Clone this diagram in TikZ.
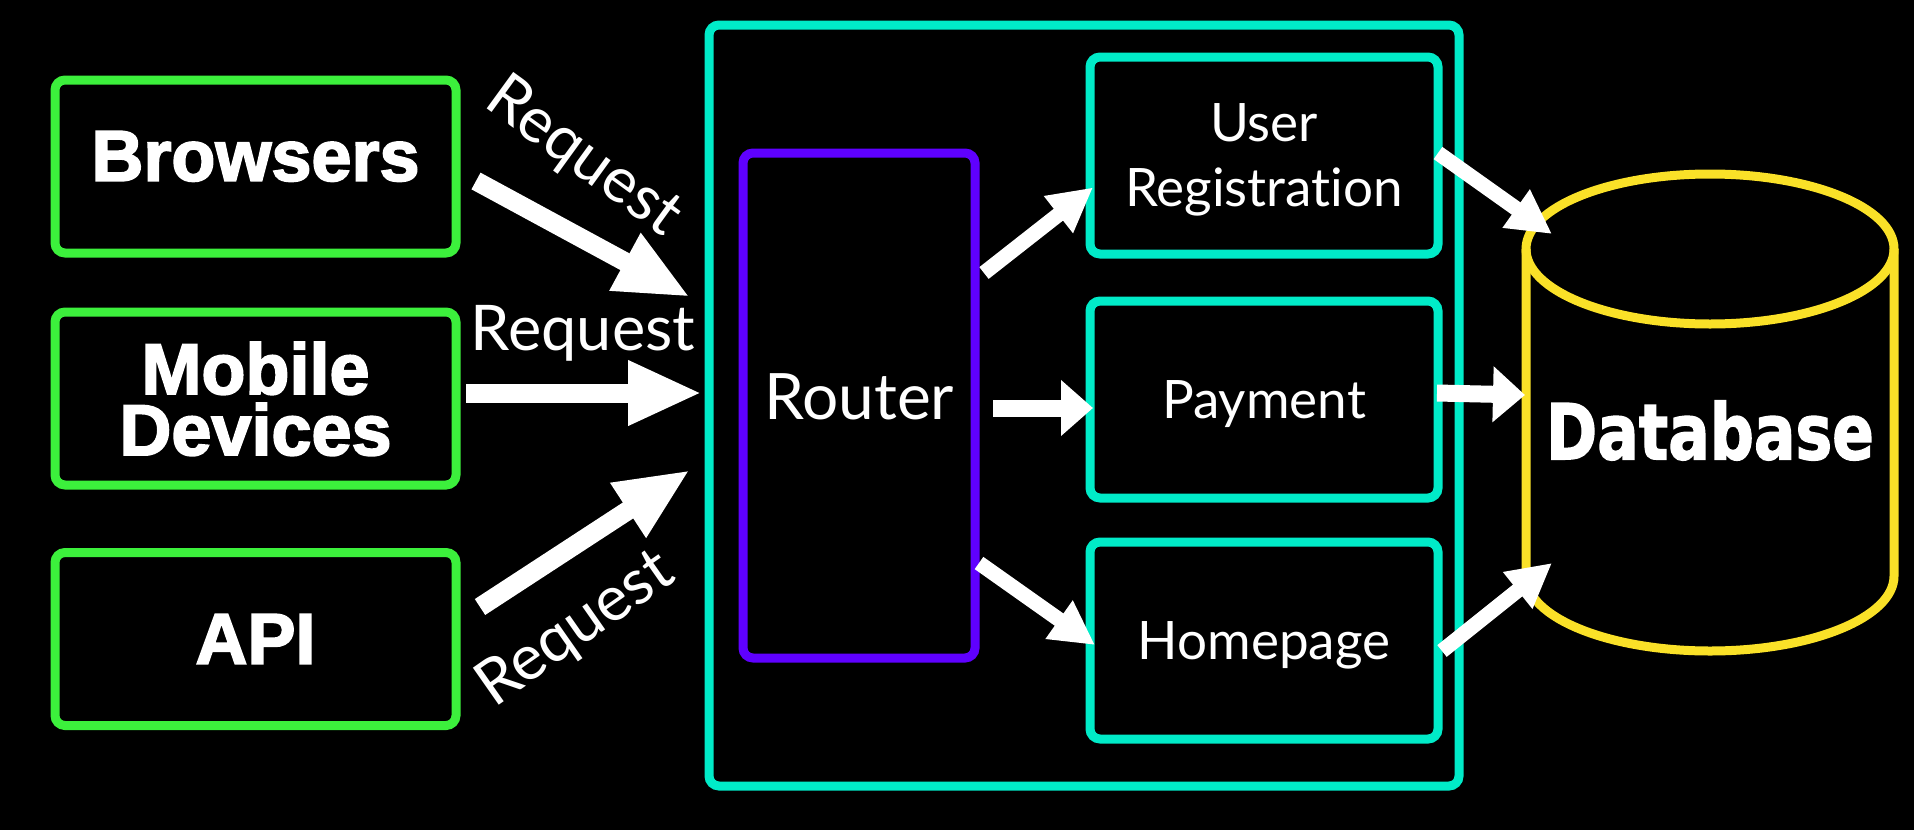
\documentclass[tikz,border=0pt]{standalone}
\usepackage{fontspec}
\setmainfont[Ligatures=NoCommon]{Lato}
\newfontfamily\heavyfont[FakeBold=2.5]{Liberation Sans}
\newfontfamily\widefont[FakeBold=2]{DejaVu Sans}
\newfontfamily\latofont[Ligatures=NoCommon]{Lato}
\usetikzlibrary{arrows.meta,calc}
\definecolor{cgreen}{RGB}{60,240,60}
\definecolor{cteal}{RGB}{0,235,200}
\definecolor{cpurple}{RGB}{95,0,255}
\definecolor{cyellow}{RGB}{250,225,40}
\begin{document}
\begin{tikzpicture}[x=0.5pt,y=-0.5pt,
  greenbox/.style={draw=cgreen, line width=4.5pt, rounded corners=5pt, fill=black,
    minimum width=200.5pt, minimum height=86.5pt, outer sep=0pt, inner sep=0pt,
    text=white, font=\heavyfont\bfseries\fontsize{36}{30.5}\selectfont, align=center, text depth=0pt},
  tealbox/.style={draw=cteal, line width=4.5pt, rounded corners=5pt, fill=black,
    minimum width=174pt, minimum height=98.5pt, outer sep=0pt, inner sep=0pt,
    text=white, font=\latofont\fontsize{26.5}{32.5}\selectfont, align=center, text depth=0pt},
  clusterbox/.style={draw=cteal, line width=4.5pt, rounded corners=5pt,
    minimum width=375pt, minimum height=380.5pt, outer sep=0pt, inner sep=0pt},
  routerbox/.style={draw=cpurple, line width=4.5pt, rounded corners=5pt,
    minimum width=116pt, minimum height=252.5pt, outer sep=0pt, inner sep=0pt,
    text=white, font=\latofont\fontsize{32}{36}\selectfont, text depth=9pt},
  reqlabel/.style={text=white, font=\latofont\fontsize{31.5}{36}\selectfont, inner sep=0pt},
  dbline/.style={draw=cyellow, line width=4.5pt},
  bigarrow/.style={draw=white, line width=9.5pt, -{Triangle[length=37pt,width=30pt]}},
  smallarrow/.style={draw=white, line width=7.5pt, -{Triangle[length=22pt,width=22pt]}},
  flatarrow/.style={draw=white, line width=8.5pt, -{Triangle[length=16pt,width=27pt]}}
]
\fill[black] (0,0) rectangle (1914,830);
\useasboundingbox (0,0) rectangle (1914,830);

% clients
\node[greenbox, text depth=10.5pt] (brow) at (255.5,166.5) {Browsers};
\node[greenbox] (mob) at (255.5,398.5) {Mobile\\Devices};
\node[greenbox] (api) at (255.5,639) {API};

% server cluster
\node[clusterbox] (cluster) at (1084,405.5) {};
\node[routerbox] (router) at (859,405.5) {Router};
\node[tealbox] (ureg) at (1264,155.5) {User\\Registration};
\node[tealbox] (pay) at (1264,399.5) {Payment};
\node[tealbox] (home) at (1264,640.5) {Homepage};

% database cylinder
\draw[dbline, fill=black] (1526,249) -- (1526,576) arc[start angle=180, end angle=0, x radius=184, y radius=75] -- (1894,249);
\draw[dbline] (1710,249) ellipse [x radius=184, y radius=75];
\node[text=white, font=\widefont\bfseries\fontsize{38.5}{40}\selectfont, text depth=0pt,
  minimum width=184pt, minimum height=238pt, inner sep=0pt, outer sep=0pt] (db) at (1710,430)
  {\scalebox{0.8}[1]{Database}};

% request arrows
\draw[bigarrow] ($(brow.east)+(20,14.5)$) -- ($(cluster.west)+(-19,-108.5)$);
\draw[bigarrow] ($(mob.east)+(10,-5.5)$) -- ($(cluster.west)+(-7,-12.5)$);
\draw[bigarrow] ($(api.east)+(24,-32)$) -- ($(cluster.west)+(-19,64.5)$);

\node[reqlabel, rotate=-36] (req1) at (583,158) {Request};
\node[reqlabel, anchor=base] (req2) at (583,350) {Request};
\node[reqlabel, rotate=35] (req3) at (576,630) {Request};

% router arrows
\draw[smallarrow] ($(router.east)+(9,-132.5)$) -- ($(ureg.west)+(3,32)$);
\draw[flatarrow] ($(router.east)+(18,2.5)$) -- ($(pay.west)+(3,8.5)$);
\draw[smallarrow] ($(router.east)+(4,157.5)$) -- ($(home.west)+(5,4.5)$);

% database arrows
\draw[smallarrow] ($(ureg.east)+(0,-2.5)$) -- ($(db.west)+(26,-196)$);
\draw[flatarrow] ($(pay.east)+(-1,-6.5)$) -- ($(db.west)+(-1,-35)$);
\draw[smallarrow] ($(home.east)+(4,10.5)$) -- ($(db.west)+(26,133)$);
\end{tikzpicture}
\end{document}
